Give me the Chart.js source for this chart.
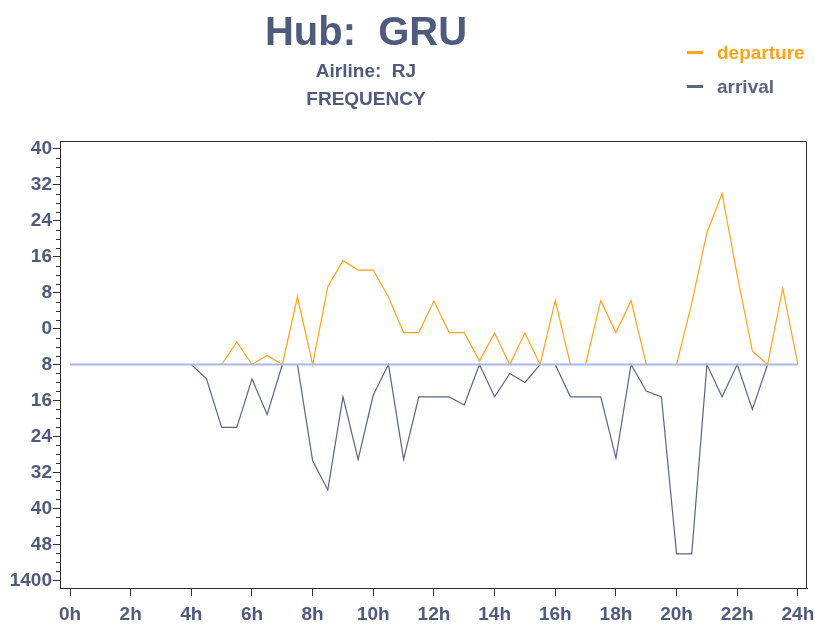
<!DOCTYPE html>
<html>
<head>
<meta charset="utf-8">
<script src="https://cdn.jsdelivr.net/npm/chart.js@4/dist/chart.umd.min.js"></script>
<style>
  html, body { margin: 0; padding: 0; background: #fff; }
  #wrap { position: relative; width: 815px; height: 624px; font-family: "Liberation Sans", Arial, sans-serif; font-weight: bold; color: #4f5b7d; }
  #chart { position: absolute; left: 0; top: 0; }
  .title { position: absolute; left: 166px; width: 400px; text-align: center; line-height: 1; white-space: pre; }
  #title { top: 11px; font-size: 40px; }
  #sub1 { top: 61px; font-size: 19px; }
  #sub2 { top: 89px; font-size: 19px; }
  #legend { position: absolute; left: 687px; top: 0; margin: 0; padding: 0; list-style: none; font-size: 19px; line-height: 1; }
  #legend li { position: absolute; left: 0; white-space: nowrap; }
  #legend .mark { display: inline-block; width: 16px; height: 3px; margin-right: 14px; vertical-align: 5px; }
</style>
</head>
<body>
<div id="wrap">
  <canvas id="chart" width="815" height="624"></canvas>
  <div class="title" id="title">Hub:  GRU</div>
  <div class="title" id="sub1">Airline:  RJ</div>
  <div class="title" id="sub2">FREQUENCY</div>
  <ul id="legend"></ul>
</div>
<script>
// half-hour slots from 4h to 24h
const hours = [4, 4.5, 5, 5.5, 6, 6.5, 7, 7.5, 8, 8.5, 9, 9.5, 10, 10.5, 11, 11.5, 12, 12.5, 13, 13.5,
               14, 14.5, 15, 15.5, 16, 16.5, 17, 17.5, 18, 18.5, 19, 19.5, 20, 20.5, 21, 21.5, 22, 22.5, 23, 23.5, 24];

// departures drawn above the baseline
const departure = [null, null, 0, 5, 0, 2, 0, 15, 0, 17.3, 23.1, 21, 21, 15, 7.1, 7.1, 14.1, 7.1, 7.1, 0.8,
                   7, 0, 7, 0, 14.2, 0, 0, 14.2, 7.1, 14.2, 0, 0, 0, 13.6, 29.3, 38, 19.8, 3, 0, 16.9, 0];

// arrivals drawn below the baseline
const arrival = [0, -3.2, -14, -14, -3.2, -11.1, 0, 0, -21.4, -27.9, -7.2, -21.1, -6.8, 0, -21.1, -7.2, -7.2, -7.2, -9, 0,
                 -7.2, -2, -4, 0, 0, -7.2, -7.2, -7.2, -20.8, 0, -5.9, -7.2, -42.1, -42.1, 0, -7.2, 0, -10, 0, null, null];

const xTicks = [0, 2, 4, 6, 8, 10, 12, 14, 16, 18, 20, 22, 24];
const yTicks = [48, 40, 32, 24, 16, 8, 0, -8, -16, -24, -32, -40, -48];
const yTickLabels = ['40', '32', '24', '16', '8', '0', '8', '16', '24', '32', '40', '48', '1400'];

const textColor = '#4f5b7d';
const axisColor = '#2b2b2b';
const tickFont = { family: 'Liberation Sans', size: 19, weight: 'bold' };

// frame on top/right and the small ticks between labelled ones
const framePlugin = {
    id: 'frame',
    afterDraw(chart) {
        const { ctx, chartArea: a, scales } = chart;
        ctx.save();
        ctx.strokeStyle = axisColor;
        ctx.lineWidth = 1;
        ctx.beginPath();
        ctx.moveTo(a.left, a.top + 0.5);
        ctx.lineTo(a.right - 0.5, a.top + 0.5);
        ctx.lineTo(a.right - 0.5, a.bottom);
        ctx.stroke();
        ctx.beginPath();
        for (let v = -46; v <= 46; v += 2) {
            if (v % 8 === 0) continue;
            const py = Math.round(scales.y.getPixelForValue(v)) + 0.5;
            ctx.moveTo(a.left - 4, py);
            ctx.lineTo(a.left, py);
        }
        ctx.stroke();
        ctx.restore();
    }
};

const chart = new Chart(document.getElementById('chart'), {
    type: 'line',
    data: {
        datasets: [
            {
                label: 'baseline',
                data: [{ x: 0, y: 0 }, { x: 24, y: 0 }],
                borderColor: '#a9b8ee',
                borderWidth: 2,
                pointRadius: 0,
                order: 0
            },
            {
                label: 'departure',
                data: hours.map((h, i) => ({ x: h, y: departure[i] })),
                borderColor: '#ffa31a',
                borderWidth: 1.2,
                pointRadius: 0,
                tension: 0,
                order: 1
            },
            {
                label: 'arrival',
                data: hours.map((h, i) => ({ x: h, y: arrival[i] })),
                borderColor: '#5a6584',
                borderWidth: 1.2,
                pointRadius: 0,
                tension: 0,
                order: 2
            }
        ]
    },
    options: {
        responsive: false,
        animation: false,
        layout: { padding: { top: 141, right: 8, left: 0, bottom: 0 } },
        plugins: { legend: { display: false }, title: { display: false }, tooltip: { enabled: false } },
        scales: {
            x: {
                type: 'linear',
                min: -0.33,
                max: 24.3,
                afterBuildTicks: s => { s.ticks = xTicks.map(v => ({ value: v })); },
                afterFit: s => { s.height = 36; s.paddingLeft = 0; s.paddingRight = 0; },
                ticks: { callback: v => v + 'h', font: tickFont, color: textColor, padding: 7, autoSkip: false, maxRotation: 0 },
                grid: { drawOnChartArea: false, tickLength: 8, tickColor: axisColor },
                border: { color: axisColor, width: 1 }
            },
            y: {
                type: 'linear',
                min: -49.7,
                max: 49.7,
                afterBuildTicks: s => { s.ticks = yTicks.map(v => ({ value: v })); },
                afterFit: s => { s.width = 60; s.paddingTop = 0; s.paddingBottom = 0; },
                ticks: { callback: v => yTickLabels[yTicks.indexOf(v)], font: tickFont, color: textColor, padding: 1, autoSkip: false },
                grid: { drawOnChartArea: false, tickLength: 7, tickColor: axisColor },
                border: { color: axisColor, width: 1 }
            }
        }
    },
    plugins: [framePlugin]
});

// legend from the chart's own datasets
const legend = document.getElementById('legend');
chart.data.datasets.filter(d => d.label !== 'baseline').forEach((d, i) => {
    const li = document.createElement('li');
    li.style.top = (43 + i * 34) + 'px';
    li.style.color = d.borderColor;
    const mark = document.createElement('span');
    mark.className = 'mark';
    mark.style.background = d.borderColor;
    li.appendChild(mark);
    li.appendChild(document.createTextNode(d.label));
    legend.appendChild(li);
});
</script>
</body>
</html>
